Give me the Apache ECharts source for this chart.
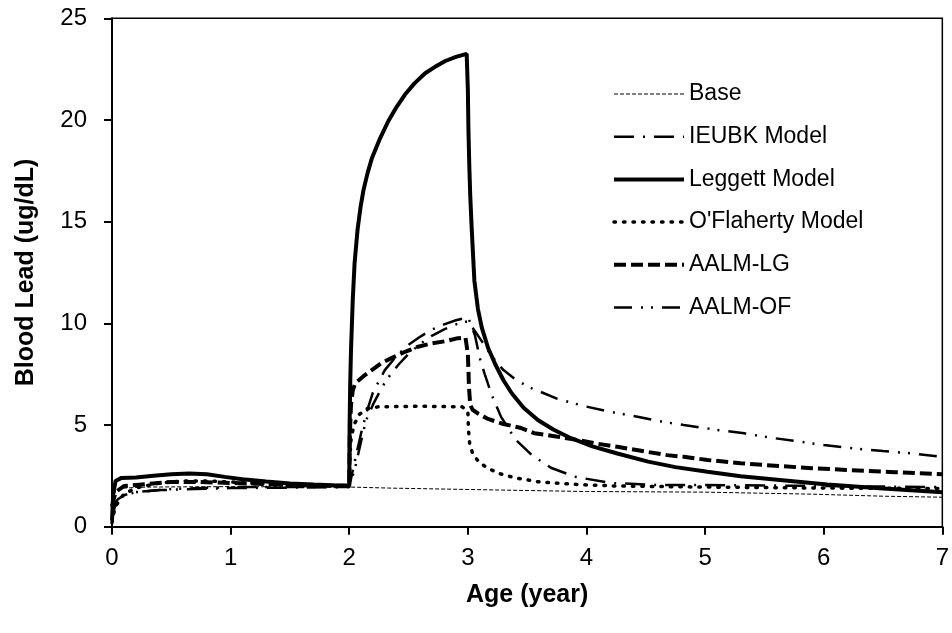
<!DOCTYPE html>
<html>
<head>
<meta charset="utf-8">
<script src="https://cdn.jsdelivr.net/npm/echarts@6/dist/echarts.min.js"></script>
<style>
html,body{margin:0;padding:0;background:#fff;}
#chart{width:952px;height:633px;}
</style>
</head>
<body>
<div id="chart"></div>
<script>
// ---- data: [age (year), blood lead (ug/dL)] ----
var seriesNames = ['Base', 'IEUBK Model', 'Leggett Model', "O'Flaherty Model", 'AALM-LG', 'AALM-OF'];
var xTicks = [0, 1, 2, 3, 4, 5, 6, 7];
var yTicks = [0, 5, 10, 15, 20, 25];

var baseData = [[0,1.3],[0.03,1.75],[0.1,1.9],[0.3,1.95],[1.0,1.97],[2.0,1.95],[2.33,1.9],[3.0,1.83],[4.0,1.73],[5.0,1.7],[5.9,1.6],[6.5,1.5],[7.0,1.45]];

var ieubkData = [[0,1.0],[0.05,1.35],[0.1,1.55],[0.2,1.7],[0.4,1.8],[0.7,1.85],[1.0,1.9],[1.5,1.92],[2.0,1.95],
  [2.05,3.3],[2.1,4.6],[2.15,5.7],[2.2,6.6],[2.3,7.7],[2.4,8.4],[2.5,8.95],[2.6,9.35],[2.7,9.7],[2.8,9.95],[2.9,10.15],[3.0,10.3],
  [3.03,9.9],[3.06,9.4],[3.1,8.3],[3.14,7.54],[3.2,6.5],[3.28,5.4],[3.4,4.3],[3.54,3.52],[3.7,2.9],[3.9,2.46],[4.2,2.15],[4.6,2.05],[5.0,2.05],[6.0,2.0],[7.0,1.95]];

var leggettData = [[0,0.3],[0.01,1.6],[0.03,2.25],[0.08,2.4],[0.2,2.42],[0.35,2.5],[0.5,2.58],[0.65,2.62],[0.8,2.58],[0.95,2.45],[1.1,2.33],[1.3,2.22],[1.5,2.13],[1.7,2.07],[1.9,2.03],[2.0,2.02],
  [2.003,5.0],[2.008,7.0],[2.015,8.7],[2.03,11.2],[2.045,12.95],[2.07,14.6],[2.095,15.7],[2.12,16.55],[2.155,17.4],[2.19,18.1],[2.26,19.1],[2.33,19.95],[2.4,20.65],[2.47,21.25],[2.55,21.8],[2.64,22.3],[2.72,22.6],[2.81,22.9],[2.9,23.1],[2.99,23.25],
  [3.0,21.5],[3.005,19.5],[3.012,17.8],[3.02,16.3],[3.033,14.6],[3.055,12.1],[3.085,10.7],[3.117,9.8],[3.17,8.8],[3.23,8.0],[3.3,7.2],[3.37,6.56],[3.47,5.85],[3.59,5.25],[3.72,4.78],[3.87,4.35],[4.05,3.95],[4.26,3.6],[4.52,3.2],[4.75,2.93],[5.02,2.7],[5.3,2.48],[5.63,2.3],[6.03,2.07],[6.47,1.89],[7.0,1.7]];

var oflahertyData = [[0,0.2],[0.02,0.8],[0.05,1.2],[0.1,1.6],[0.2,1.9],[0.4,2.15],[0.6,2.25],[0.8,2.25],[1.0,2.2],[1.3,2.1],[1.6,2.05],[2.0,2.0],
  [2.005,3.3],[2.015,4.3],[2.04,5.0],[2.08,5.5],[2.15,5.8],[2.25,5.9],[2.6,5.92],[2.95,5.9],[3.0,5.7],
  [3.005,4.8],[3.015,4.1],[3.04,3.6],[3.09,3.2],[3.16,2.9],[3.26,2.62],[3.4,2.4],[3.59,2.21],[3.8,2.12],[4.01,2.05],[4.26,2.0],[5.0,1.95],[6.0,1.9],[7.0,1.88]];

var aalmLgData = [[0,1.0],[0.03,1.7],[0.1,2.0],[0.3,2.1],[0.5,2.2],[0.7,2.2],[1.0,2.15],[1.3,2.1],[1.6,2.05],[2.0,2.0],
  [2.005,4.5],[2.015,6.0],[2.03,6.7],[2.05,7.05],[2.12,7.4],[2.19,7.7],[2.27,8.04],[2.36,8.3],[2.47,8.6],[2.58,8.85],[2.7,9.02],[2.81,9.12],[2.9,9.25],[2.98,9.3],
  [3.0,8.5],[3.01,6.8],[3.02,6.0],[3.04,5.75],[3.09,5.55],[3.17,5.3],[3.3,5.05],[3.45,4.85],[3.56,4.6],[3.73,4.45],[3.93,4.26],[4.07,4.1],[4.26,3.93],[4.49,3.7],[4.68,3.52],[4.82,3.44],[5.02,3.28],[5.3,3.12],[5.63,2.98],[5.9,2.88],[6.19,2.79],[6.6,2.68],[7.0,2.58]];

var aalmOfData = [[0,0.3],[0.02,0.9],[0.05,1.3],[0.1,1.55],[0.2,1.7],[0.5,1.85],[1.0,1.95],[1.5,1.95],[2.0,1.95],
  [2.05,2.9],[2.1,4.2],[2.14,5.2],[2.2,6.0],[2.28,6.9],[2.35,7.5],[2.42,8.0],[2.5,8.5],[2.6,9.0],[2.7,9.4],[2.8,9.7],[2.9,9.95],[3.0,10.1],
  [3.05,9.7],[3.12,9.1],[3.2,8.4],[3.3,7.7],[3.4,7.25],[3.51,6.88],[3.75,6.3],[3.98,5.93],[4.2,5.65],[4.43,5.41],[4.6,5.2],[4.82,5.0],[5.05,4.8],[5.33,4.59],[5.55,4.38],[5.8,4.18],[6.0,4.02],[6.25,3.85],[6.5,3.72],[6.75,3.6],[7.0,3.43]];

var FONT = "'Liberation Sans', Arial, Helvetica, sans-serif";

function mkSeries(name, data, lineStyle) {
  return {
    name: name, type: 'line', data: data, symbol: 'none', showSymbol: false,
    lineStyle: Object.assign({color: '#000'}, lineStyle),
    itemStyle: {color: '#000'},
    emphasis: {disabled: true},
    z: 3
  };
}

var chart = echarts.init(document.getElementById('chart'), null, {renderer: 'canvas'});
chart.setOption({
  animation: false,
  backgroundColor: '#fff',
  grid: {left: 112, right: 6, top: 18.3, bottom: 106.3, show: true, borderColor: '#000', borderWidth: 1.5, backgroundColor: 'transparent'},
  legend: {
    data: seriesNames,
    orient: 'vertical',
    left: 607, top: 77.5,
    itemWidth: 70, itemHeight: 22, itemGap: 19.7,
    itemStyle: {opacity: 0},
    lineStyle: {width: 'inherit'},
    textStyle: {fontFamily: FONT, fontSize: 23, color: '#000'},
    selectedMode: false
  },
  xAxis: {
    type: 'value', min: xTicks[0], max: xTicks[xTicks.length - 1], interval: 1,
    name: 'Age (year)', nameLocation: 'middle', nameGap: 56,
    nameTextStyle: {fontFamily: FONT, fontSize: 25, fontWeight: 'bold', color: '#000'},
    axisLine: {show: true, lineStyle: {color: '#000', width: 2}},
    axisTick: {show: true, inside: false, length: 8, lineStyle: {color: '#000', width: 2}},
    axisLabel: {fontFamily: FONT, fontSize: 24, color: '#000', margin: 20},
    splitLine: {show: false}
  },
  yAxis: {
    type: 'value', min: yTicks[0], max: yTicks[yTicks.length - 1], interval: 5,
    name: 'Blood Lead (ug/dL)', nameLocation: 'middle', nameGap: 73, nameRotate: 90,
    nameTextStyle: {fontFamily: FONT, fontSize: 25, fontWeight: 'bold', color: '#000'},
    axisLine: {show: true, lineStyle: {color: '#000', width: 2}},
    axisTick: {show: true, inside: false, length: 8, lineStyle: {color: '#000', width: 2}},
    axisLabel: {fontFamily: FONT, fontSize: 24, color: '#000', margin: 25},
    splitLine: {show: false}
  },
  series: [
    mkSeries(seriesNames[0], baseData, {width: 1, type: [4, 2]}),
    mkSeries(seriesNames[1], ieubkData, {width: 2.5, type: [20, 9, 2, 9]}),
    mkSeries(seriesNames[2], leggettData, {width: 4, type: 'solid'}),
    mkSeries(seriesNames[3], oflahertyData, {width: 3.5, type: [1.5, 8], cap: 'round'}),
    mkSeries(seriesNames[4], aalmLgData, {width: 4, type: [12, 5]}),
    mkSeries(seriesNames[5], aalmOfData, {width: 2.5, type: [18, 9, 2, 8, 2, 9]})
  ]
});
</script>
</body>
</html>
